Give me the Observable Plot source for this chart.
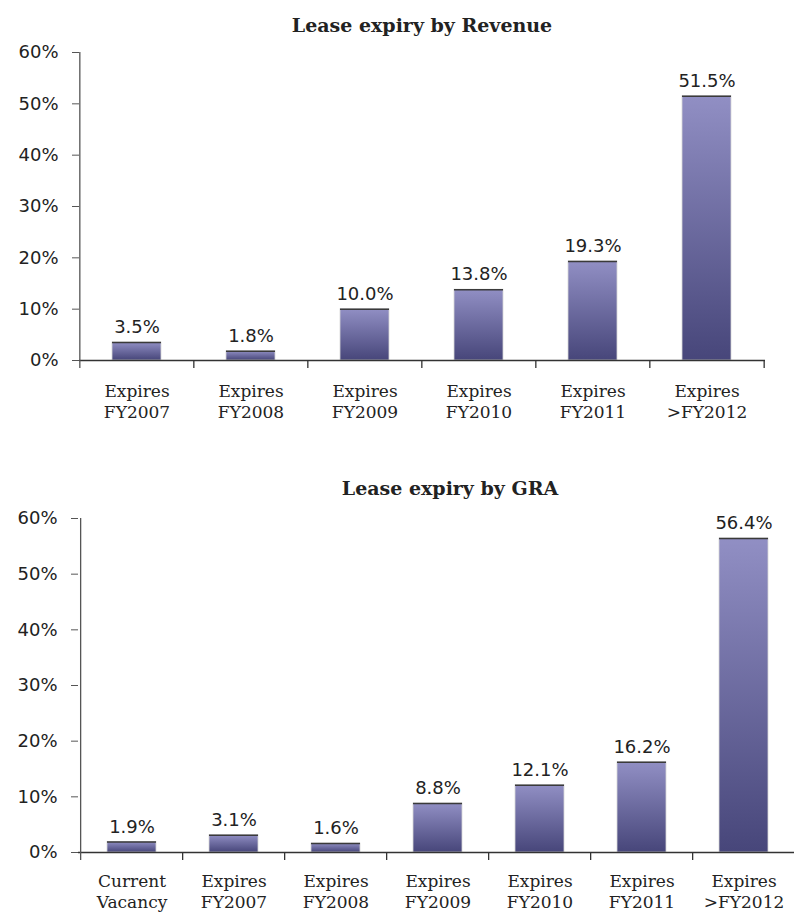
<!DOCTYPE html>
<html>
<head>
<meta charset="utf-8">
<script src="https://cdn.jsdelivr.net/npm/d3@7"></script>
<script src="https://cdn.jsdelivr.net/npm/@observablehq/plot@0.6"></script>
<style>
  html, body { margin: 0; padding: 0; background: #fff; overflow: hidden; }
  #wrap { position: relative; width: 794px; height: 913px; }
  .title { position: absolute; font-family: "DejaVu Serif", serif; font-weight: bold; font-size: 19px; line-height: 22px; color: #222; text-align: center; white-space: nowrap; }
  .chart { position: absolute; left: 0; }
  .chart svg { overflow: visible; }
  .chart g[aria-label="x-axis tick label"] text { font-family: "DejaVu Serif", serif; }
</style>
</head>
<body>
<div id="wrap">
  <div class="title" id="t1" style="left:79px; width:686px; top:14px;">Lease expiry by Revenue</div>
  <div class="chart" id="c1" style="top:40px;"></div>
  <div class="title" id="t2" style="left:250px; width:400px; top:477px;">Lease expiry by GRA</div>
  <div class="chart" id="c2" style="top:500px;"></div>
</div>
<script>
// ---- data ----
const revenueCategories = ["Expires\nFY2007", "Expires\nFY2008", "Expires\nFY2009", "Expires\nFY2010", "Expires\nFY2011", "Expires\n>FY2012"];
const revenueValues = [3.5, 1.8, 10.0, 13.8, 19.3, 51.5];

const graCategories = ["Current\nVacancy", "Expires\nFY2007", "Expires\nFY2008", "Expires\nFY2009", "Expires\nFY2010", "Expires\nFY2011", "Expires\n>FY2012"];
const graValues = [1.9, 3.1, 1.6, 8.8, 12.1, 16.2, 56.4];

const yTicks = [0, 10, 20, 30, 40, 50, 60];

function drawChart(el, categories, values, cfg, gradId) {
  const data = categories.map((c, i) => ({cat: c, value: values[i]}));
  const n = categories.length;
  const step = (cfg.xRange[1] - cfg.xRange[0]) / n;
  const pad = cfg.padding;
  const chart = Plot.plot({
    width: 794,
    height: cfg.height,
    marginTop: cfg.marginTop,
    marginBottom: cfg.marginBottom,
    marginLeft: cfg.marginLeft,
    marginRight: cfg.marginRight,
    style: {fontFamily: "DejaVu Sans, sans-serif", fontSize: "18px", color: "#222", background: "transparent"},
    x: {domain: categories, range: cfg.xRange, paddingInner: pad, paddingOuter: pad / 2, align: 0.5, label: null},
    y: {domain: [0, 60], label: null},
    marks: [
      Plot.barY(data, {x: "cat", y: "value", fill: `url(#${gradId})`, stroke: "#d8d8d8", strokeWidth: 0.8}),
      Plot.tickY(data, {x: "cat", y: "value", stroke: "#3a3a3a", strokeWidth: 1.5}),
      Plot.text(data, {x: "cat", y: "value", text: d => d.value.toFixed(1) + "%", dy: -15, lineAnchor: "middle", fill: "#222", fontSize: 18}),
      Plot.axisY({ticks: yTicks, tickFormat: d => d + "%", tickSize: 7, tickPadding: 14, stroke: "#555", fontSize: 18, fill: "#222"}),
      Plot.axisX({tickSize: 0, tickPadding: cfg.labelPad, lineHeight: 1.22, fontSize: 17, fill: "#222", lineAnchor: "top"}),
      Plot.ruleY([0], {stroke: "#333", strokeWidth: 1.3}),
      // y-axis line (at left edge of first band cell)
      Plot.ruleX(categories.slice(0, 1), {stroke: "#555", strokeWidth: 1.3, insetBottom: -8}),
      // category separator ticks (shifted to band edges below)
      Plot.ruleX(categories.slice(1).concat([categories[n - 1]]), {y1: 0, y2: 0, stroke: "#333", strokeWidth: 1.3, insetTop: 8}),
    ]
  });
  el.appendChild(chart);
  const svg = d3.select(chart);
  // gradient for bars
  const defs = svg.insert("defs", ":first-child");
  const g = defs.append("linearGradient").attr("id", gradId).attr("x1", 0).attr("y1", 0).attr("x2", 0).attr("y2", 1);
  g.append("stop").attr("offset", "0%").attr("stop-color", "#918fc4");
  g.append("stop").attr("offset", "100%").attr("stop-color", "#47467a");
  // shift rules to band-cell edges
  const ruleGroups = svg.selectAll('g[aria-label="rule"]').nodes();
  // ruleGroups[0] = baseline, [1] = y-axis line, [2] = separators
  d3.select(ruleGroups[1]).selectAll("line").attr("transform", `translate(${-step / 2},0)`);
  d3.select(ruleGroups[2]).selectAll("line").each(function(d, i, nodes) {
    const shift = i === nodes.length - 1 ? step / 2 : -step / 2;
    d3.select(this).attr("transform", `translate(${shift},0)`);
  });
  return chart;
}

drawChart(document.getElementById("c1"), revenueCategories, revenueValues,
  {height: 400, marginTop: 12, marginBottom: 80, marginLeft: 79, marginRight: 29, xRange: [79, 765], padding: 0.57, labelPad: 22}, "grad1");
drawChart(document.getElementById("c2"), graCategories, graValues,
  {height: 413, marginTop: 18, marginBottom: 61, marginLeft: 78, marginRight: 0, xRange: [78, 797], padding: 0.52, labelPad: 20}, "grad2");
</script>
</body>
</html>
